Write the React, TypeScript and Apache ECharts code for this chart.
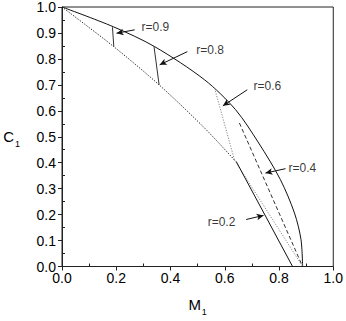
import React, { useEffect, useRef } from "react";
import * as echarts from "echarts";

// Outer boundary (solid)
const outerCurve: number[][] = [
  [0, 1], [0.189, 0.924], [0.342, 0.847], [0.526, 0.719], [0.64, 0.604],
  [0.725, 0.476], [0.805, 0.335], [0.857, 0.206], [0.881, 0.104], [0.887, 0],
];
// Lower boundary (dotted)
const lowerCurve: number[][] = [
  [0, 1], [0.191, 0.847], [0.358, 0.70], [0.526, 0.533], [0.636, 0.41],
];
const lowerTail: number[][] = [[0.636, 0.41], [0.887, 0]];
// r segments
const seg09: number[][] = [[0.186, 0.922], [0.191, 0.847]];
const seg08: number[][] = [[0.339, 0.849], [0.358, 0.70]];
const seg06: number[][] = [[0.5625, 0.687], [0.636, 0.41]];
const seg04: number[][] = [[0.654, 0.553], [0.887, 0]];
const seg02: number[][] = [[0.642, 0.405], [0.85, 0]];

// annotations
const labelNames = ["r=0.9", "r=0.8", "r=0.6", "r=0.4", "r=0.2"];
const labelAnchors: number[][] = [
  [0.293, 0.923], [0.495, 0.835], [0.706, 0.696], [0.835, 0.381], [0.537, 0.173],
];
const arrowFrom: number[][] = [
  [0.268, 0.912], [0.462, 0.828], [0.683, 0.681], [0.824, 0.377], [0.679, 0.181],
];
const arrowTo: number[][] = [
  [0.201, 0.899], [0.360, 0.777], [0.593, 0.619], [0.750, 0.360], [0.743, 0.197],
];

const FONT = "'Liberation Sans', Arial, Helvetica, sans-serif";

export default function App() {
  const ref = useRef<HTMLDivElement>(null);
  useEffect(() => {
    if (!ref.current) return;
    const chart = echarts.init(ref.current, undefined, { renderer: "svg" });
    const lineSeries = (data: number[][], color: string, type: any, width = 1, smooth: any = false) => ({
      type: "line",
      data,
      showSymbol: false,
      symbol: "none",
      smooth,
      lineStyle: { color, width, type },
      silent: true,
      z: 3,
    });
    const axisText = { fontSize: 14, color: "#000", fontFamily: FONT };
    const nameRich = {
      a: { fontSize: 15, lineHeight: 20, fontFamily: FONT, color: "#000", verticalAlign: "middle" },
      b: { fontSize: 9, lineHeight: 10, padding: [14, 0, 0, 1], fontFamily: FONT, color: "#000", verticalAlign: "middle" },
    };
    chart.setOption({
      animation: false,
      backgroundColor: "#fff",
      grid: {
        left: 62, top: 7, right: 12, bottom: 54,
        show: true, borderColor: "#222", borderWidth: 1, backgroundColor: "transparent",
      },
      xAxis: {
        type: "value", min: 0, max: 1, interval: 0.2,
        axisLine: { show: true, lineStyle: { color: "#222", width: 1 } },
        axisTick: { show: true, inside: false, length: 4, lineStyle: { color: "#222" } },
        minorTick: { show: true, splitNumber: 2, length: -3, lineStyle: { color: "#222" } },
        splitLine: { show: false },
        axisLabel: { ...axisText, margin: 4, formatter: (v: number) => v.toFixed(1) },
        name: "{a|M}{b|1}",
        nameLocation: "middle",
        nameGap: 28,
        nameTextStyle: { rich: nameRich },
      },
      yAxis: {
        type: "value", min: 0, max: 1, interval: 0.1,
        axisLine: { show: true, lineStyle: { color: "#222", width: 1 } },
        axisTick: { show: true, inside: false, length: 4, lineStyle: { color: "#222" } },
        minorTick: { show: true, splitNumber: 2, length: -3, lineStyle: { color: "#222" } },
        splitLine: { show: false },
        axisLabel: { ...axisText, margin: 6, formatter: (v: number) => v.toFixed(1) },
        name: "{a|C}{b|1}",
        nameLocation: "middle",
        nameRotate: 0,
        nameGap: 42,
        nameTextStyle: { rich: nameRich },
      },
      series: [
        {
          ...lineSeries(outerCurve, "#111", "solid", 1, 0.3),
          markLine: {
            silent: true,
            symbol: ["none", "arrow"],
            symbolSize: [5, 7],
            label: { show: false },
            lineStyle: { color: "#111", width: 1, type: "solid" },
            data: arrowFrom.map((f, i) => [{ coord: f }, { coord: arrowTo[i] }]),
          },
        },
        lineSeries(lowerCurve, "#222", [1.3, 1.5], 1, 0.3),
        lineSeries(lowerTail, "#888", [1.2, 1.5], 1),
        lineSeries(seg09, "#333", "solid", 1),
        lineSeries(seg08, "#333", "solid", 1),
        lineSeries(seg06, "#888", [1.2, 1.5], 1),
        lineSeries(seg04, "#333", [4, 2.5], 1),
        lineSeries(seg02, "#111", "solid", 1),
        {
          type: "scatter",
          symbolSize: 0,
          silent: true,
          data: labelAnchors.map((p, i) => ({ value: p, name: labelNames[i] })),
          label: {
            show: true,
            position: "right",
            distance: 0,
            formatter: "{b}",
            fontSize: 12,
            color: "#000",
            fontFamily: FONT,
          },
          z: 5,
        },
      ],
    });
    return () => chart.dispose();
  }, []);
  return (
    <div
      ref={ref}
      style={{ position: "fixed", left: 0, top: 0, width: 346, height: 321, background: "#fff" }}
    />
  );
}
